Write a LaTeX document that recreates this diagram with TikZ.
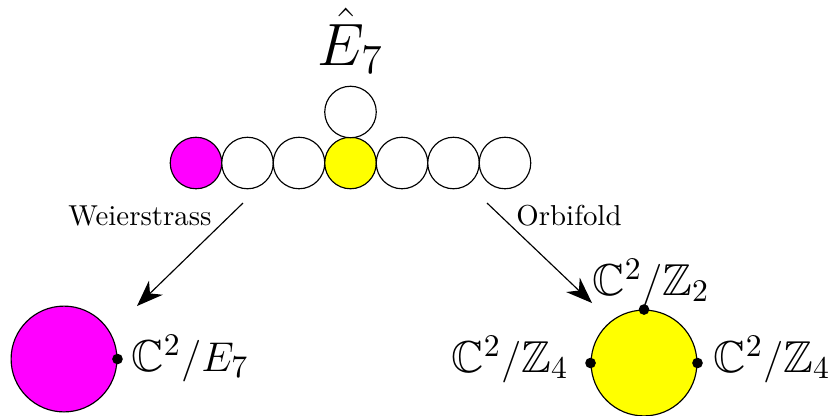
\documentclass[tikz,border=0pt]{standalone}
\usepackage{amssymb}
\usetikzlibrary{arrows.meta,positioning}
\definecolor{DynMagenta}{RGB}{255,0,255}
\definecolor{DynYellow}{RGB}{255,255,0}
\tikzset{
  dyn/node/.style={circle, draw=black, fill=white, minimum size=0.628cm, inner sep=0pt},
  dyn/big/.style={circle, draw=black, minimum size=1.29cm, inner sep=0pt},
  dyn/dot/.style={circle, fill=black, minimum size=0.13cm, inner sep=0pt},
  dyn/arrow/.style={-{Stealth[length=3.2mm,width=2.4mm,inset=1mm]}, thin},
  dyn/label/.style={font=\fontsize{15.5}{18}\selectfont, inner sep=0pt},
  dyn/maplabel/.style={font=\normalsize}
}
\begin{document}
\begin{tikzpicture}[x=0.01219cm,y=-0.01219cm]
  \useasboundingbox (0,0) rectangle (830,415);
  % affine E7 diagram
  \foreach \i/\c in {1/DynMagenta,2/white,3/white,4/DynYellow,5/white,6/white,7/white}{
    \node[dyn/node, fill=\c] (n\i) at ({196+51.5*(\i-1)},163) {};
  }
  \node[dyn/node] (n0) at (350.5,112) {};
  \node[font=\fontsize{19.5}{23}\selectfont, anchor=base, inner sep=0pt] (title) at (350.5,65) {$\hat{E}_7$};
  % maps
  \coordinate (ws) at (243,203);
  \coordinate (we) at (137,306);
  \coordinate (os) at (487,203);
  \coordinate (oe) at (592,303);
  \draw[dyn/arrow] (ws) -- (we);
  \draw[dyn/arrow] (os) -- (oe);
  \node[dyn/maplabel] (wl) at (140,216) {Weierstrass};
  \node[dyn/maplabel] (ol) at (569,216) {Orbifold};
  % resulting surfaces
  \node[dyn/big, fill=DynMagenta] (lb) at (64,359) {};
  \node[dyn/dot] (ld) at (lb.east) {};
  \node[dyn/label, anchor=base west] (llab) at (131,371) {$\mathbb{C}^2/E_7$};
  \node[dyn/big, fill=DynYellow] (rb) at (644,363) {};
  \node[dyn/dot] (rt) at (rb.north) {};
  \node[dyn/dot] (rl) at (rb.west) {};
  \node[dyn/dot] (rr) at (rb.east) {};
  \node[dyn/label, anchor=base west] (rtl) at (592,295) {$\mathbb{C}^2/\mathbb{Z}_2$};
  \node[dyn/label, anchor=base east] (rll) at (569,372) {$\mathbb{C}^2/\mathbb{Z}_4$};
  \node[dyn/label, anchor=base west] (rrl) at (713,372) {$\mathbb{C}^2/\mathbb{Z}_4$};
\end{tikzpicture}
\end{document}
